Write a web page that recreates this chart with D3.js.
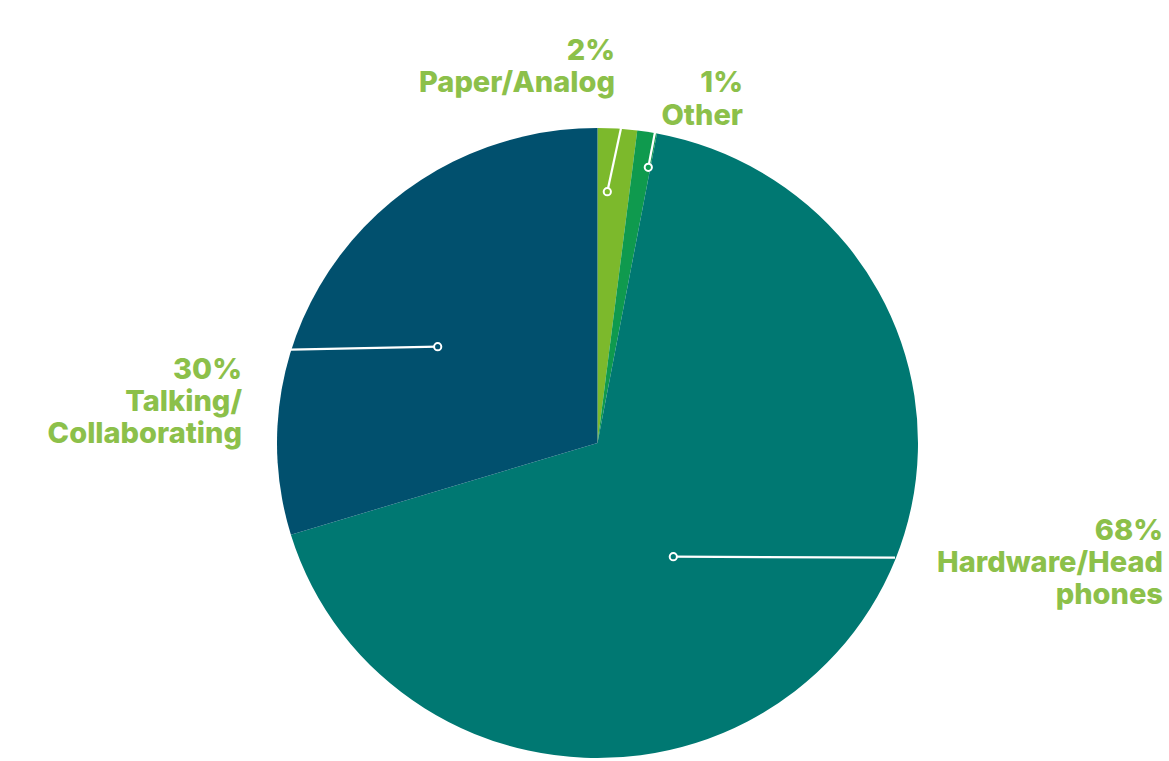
<!DOCTYPE html>
<html>
<head>
<meta charset="utf-8">
<script src="https://cdn.jsdelivr.net/npm/d3@7"></script>
<style>
  html, body { margin: 0; padding: 0; background: #ffffff; }
  svg { display: block; }
  .lbl { font-family: "Inter", "Open Sans", sans-serif; font-weight: 800; fill: #8cc04a; }
</style>
</head>
<body>
<svg id="chart" width="1169" height="761"></svg>
<script>
// Share of responses by category (percent)
const categories = ["Paper/Analog", "Other", "Hardware/Headphones", "Talking/Collaborating"];
const values = [2, 1, 68, 30];
const labelLines = [
  ["2%", "Paper/Analog"],
  ["1%", "Other"],
  ["68%", "Hardware/Head", "phones"],
  ["30%", "Talking/", "Collaborating"]
];
const sliceColors = ["#7cb92c", "#0f9a4e", "#007872", "#01506e"];

// Layout
const W = 1169, H = 761;
const cx = 597.5, cy = 443, R = 320.5, yScale = 0.983;
const fontSize = 29;

// Callout geometry per slice: dot position and leader end (offsets from pie centre),
// text anchor x and first baseline, line step.
const callouts = [
  { dot: [9.8, -251.3],  end: [24.2, -318],  tx: 615,  ty: 60,  step: 32 },
  { dot: [50.8, -275.7], end: [58.5, -316],  tx: 743,  ty: 92,  step: 33 },
  { dot: [75.8, 113.7],  end: [297.5, 114.7], tx: 1163, ty: 540, step: 32 },
  { dot: [-159.8, -96.3], end: [-306.5, -93.3], tx: 242, ty: 379, step: 32 }
];

const svg = d3.select("#chart");

const data = categories.map((c, i) => ({ category: c, value: values[i], i }));
const color = d3.scaleOrdinal().domain(categories).range(sliceColors);

const pie = d3.pie().value(d => d.value).sort(null);
const arc = d3.arc().innerRadius(0).outerRadius(R);

const g = svg.append("g")
  .attr("transform", `translate(${cx},${cy}) scale(1,${yScale})`);

g.selectAll("path.slice")
  .data(pie(data))
  .join("path")
  .attr("class", "slice")
  .attr("d", arc)
  .attr("fill", d => color(d.data.category));

// Leader lines with ring markers
const lead = svg.append("g").attr("transform", `translate(${cx},${cy})`);
data.forEach((d, i) => {
  const c = callouts[i];
  lead.append("line")
    .attr("x1", c.dot[0]).attr("y1", c.dot[1])
    .attr("x2", c.end[0]).attr("y2", c.end[1])
    .attr("stroke", "#ffffff").attr("stroke-width", 2.2);
  lead.append("circle")
    .attr("cx", c.dot[0]).attr("cy", c.dot[1]).attr("r", 3.6)
    .attr("fill", color(d.category))
    .attr("stroke", "#ffffff").attr("stroke-width", 2);
});

// Labels, right-aligned
data.forEach((d, i) => {
  const c = callouts[i];
  const t = svg.append("text")
    .attr("class", "lbl")
    .attr("text-anchor", "end")
    .attr("font-size", fontSize);
  labelLines[i].forEach((line, k) => {
    t.append("tspan")
      .attr("x", c.tx)
      .attr("y", c.ty + k * c.step)
      .text(line);
  });
});
</script>
</body>
</html>
